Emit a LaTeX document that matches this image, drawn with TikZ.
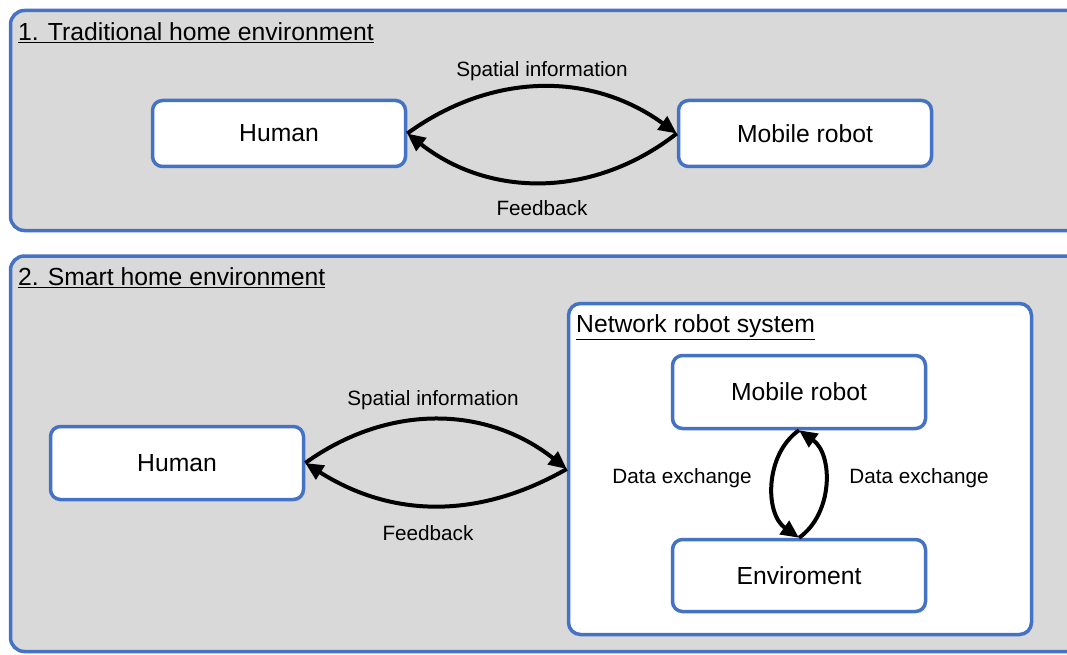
\documentclass[tikz,border=0pt]{standalone}
\usepackage{fontspec}
\setmainfont{Liberation Sans}
\usetikzlibrary{arrows.meta}
\definecolor{frameblue}{HTML}{4472C4}
\definecolor{panelgrey}{HTML}{D9D9D9}
\begin{document}
\begin{tikzpicture}[x=1pt,y=-1pt,
  panel/.style={draw=frameblue, line width=3.5pt, fill=panelgrey, rounded corners=14pt},
  group/.style={draw=frameblue, line width=3.5pt, fill=white, rounded corners=12pt},
  box/.style={draw=frameblue, line width=3.5pt, fill=white, rounded corners=10pt,
    minimum width=253pt, minimum height=#1, inner sep=0pt,
    font=\fontsize{24.7}{29}\selectfont},
  box/.default=66pt,
  title/.style={anchor=west, inner sep=0pt, font=\fontsize{24.7}{29}\selectfont},
  label/.style={inner sep=0pt, font=\fontsize{20.7}{25}\selectfont},
  flow/.style={line width=4pt, -{Triangle[length=18pt,width=16pt]}}]
\useasboundingbox (0,0) rectangle (1067,655);
\begin{scope}
\clip (0,0) rectangle (1067,655);

% Panel 1: traditional home
\draw[panel] (10.5,10.5) rectangle (1085,230.5);
\node[title] (t1) at (18,33) {\underline{1. Traditional home environment}};
\node[box] (human1) at (279,133.5) {Human};
\node[box] (robot1) at (805,133.5) {Mobile robot};
\draw[flow] (human1.east) to[bend left=36] (robot1.west);
\draw[flow] (robot1.west) to[bend left=38] (human1.east);
\node[label] (s1) at (542,71) {Spatial information};
\node[label] (f1) at (542,208) {Feedback};

% Panel 2: smart home
\draw[panel] (10.5,256) rectangle (1085,651.5);
\node[title] (t2) at (18,278) {\underline{2. Smart home environment}};
\node[box=73pt] (human2) at (177,463) {Human};

\node[group, minimum width=463pt, minimum height=331pt] (nrs) at (800,469) {};
\node[title] (t3) at (576,327) {\underline{Network robot system}};
\node[box=73pt] (robot2) at (799,392) {Mobile robot};
\node[box=72pt] (env) at (799,575.5) {Enviroment};

\draw[flow] (human2.east) to[bend left=37] (nrs.west);
\draw[flow] (nrs.west) to[bend left=31] (human2.east);
\node[label] (s2) at (433,400) {Spatial information};
\node[label] (f2) at (428,533) {Feedback};

\draw[flow] (robot2.south) to[bend right=55] (env.north);
\draw[flow] (env.north) to[bend right=55] (robot2.south);
\node[label] (d1) at (682,478) {Data exchange};
\node[label] (d2) at (919,478) {Data exchange};
\end{scope}
\end{tikzpicture}
\end{document}
